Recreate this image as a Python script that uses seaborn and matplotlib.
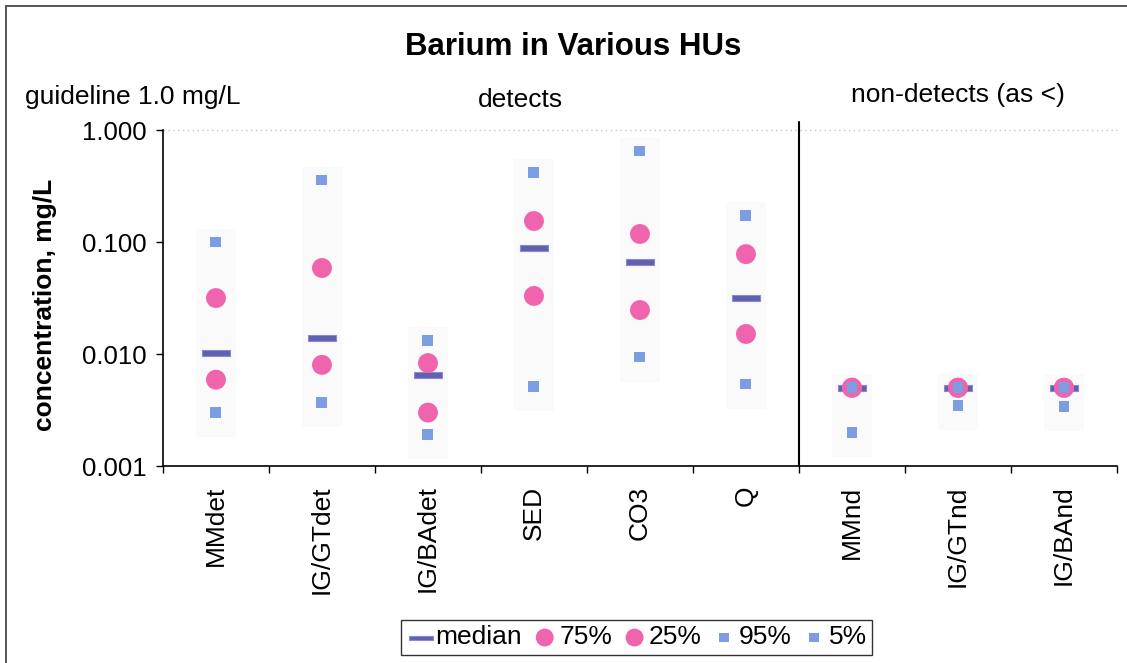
import numpy as np
import pandas as pd
import matplotlib
matplotlib.use("Agg")
import matplotlib.pyplot as plt
from matplotlib.patches import Rectangle
from matplotlib.path import Path
import seaborn as sns

# Hydrogeologic units (detects, then non-detects reported as "<")
units = ["MMdet", "IG/GTdet", "IG/BAdet", "SED", "CO3", "Q", "MMnd", "IG/GTnd", "IG/BAnd"]
n_detect_units = 6

# Barium concentration statistics, mg/L
median = [0.0102, 0.0139, 0.0065, 0.088, 0.066, 0.0316, 0.005, 0.005, 0.005]
p75 = [0.0316, 0.0586, 0.0083, 0.154, 0.118, 0.078, 0.005, 0.005, 0.005]
p25 = [0.0059, 0.0080, 0.0030, 0.033, 0.0247, 0.0151, 0.005, 0.005, 0.005]
p95 = [0.100, 0.358, 0.0133, 0.42, 0.65, 0.174, 0.005, 0.005, 0.005]
p5 = [0.0030, 0.0037, 0.0019, 0.0051, 0.0094, 0.0054, 0.0020, 0.0035, 0.0034]

guideline = 1.0
yticks = [0.001, 0.01, 0.1, 1.0]

stats = {"median": median, "75%": p75, "25%": p25, "95%": p95, "5%": p5}

rows = []
for name, vals in stats.items():
    for i, (u, v) in enumerate(zip(units, vals)):
        rows.append({"unit": u, "pos": i, "stat": name, "value": v})
df = pd.DataFrame(rows)

sns.set_theme(style="ticks")
plt.rcParams["font.family"] = ["Liberation Sans", "DejaVu Sans"]
plt.rcParams["text.color"] = "black"
plt.rcParams["axes.labelcolor"] = "black"
plt.rcParams["xtick.color"] = "black"
plt.rcParams["ytick.color"] = "black"

fig = plt.figure(figsize=(11.27, 6.63), dpi=100)
ax = fig.add_axes([0.1446, 0.2971, 0.8465, 0.5068])

pink = "#f063ad"
blue = "#7d9de3"
dash_col = "#6060b0"

# median marker: a flat horizontal bar
bar_path = Path([(-1, -0.2), (1, -0.2), (1, 0.2), (-1, 0.2), (-1, -0.2)],
                [Path.MOVETO, Path.LINETO, Path.LINETO, Path.LINETO, Path.CLOSEPOLY])

styles = {
    "median": dict(marker=bar_path, s=380, color=dash_col, edgecolor="#8a8ad0", linewidth=0.8),
    "75%": dict(marker="o", s=205, color=pink, edgecolor="none"),
    "25%": dict(marker="o", s=205, color=pink, edgecolor="none"),
    "95%": dict(marker="s", s=62, color=blue, edgecolor="none"),
    "5%": dict(marker="s", s=62, color=blue, edgecolor="none"),
}

# very faint range bands behind each unit
lo = np.array(p5) * 10 ** (-0.22)
hi = np.array(p95) * 10 ** (0.12)
ax.bar(np.arange(len(units)), hi - lo, bottom=lo, width=0.38,
       color="#fafafb", edgecolor="none", zorder=0)

for z, (name, st) in enumerate(styles.items()):
    sns.scatterplot(data=df[df["stat"] == name], x="pos", y="value", ax=ax,
                    label=name, zorder=3 + z, **st)

ax.set_yscale("log")
ax.set_ylim(0.001, 1.0)
ax.set_xlim(-0.5, len(units) - 0.5)

# guideline at 1.0 mg/L
ax.axhline(guideline, color="#c4c4c4", lw=1.0, ls=(0, (1, 2.5)), zorder=1, clip_on=False)

# divider between detects and non-detects
ax.plot([n_detect_units - 0.5, n_detect_units - 0.5], [0.001, 1.18], color="black",
        lw=1.5, clip_on=False, zorder=2)

ax.set_yticks(yticks)
ax.set_yticklabels([f"{v:.3f}" for v in yticks])
ax.yaxis.set_minor_locator(matplotlib.ticker.NullLocator())
ax.tick_params(axis="y", which="major", length=5, width=1.0, direction="out",
               pad=7, labelsize=18.5, colors="black")

ax.set_xticks(np.arange(len(units)))
ax.set_xticklabels(units, rotation=90, va="top", ha="center")
ax.set_xticks(np.arange(len(units) + 1) - 0.5, minor=True)
ax.tick_params(axis="x", which="major", length=0, pad=14, labelsize=19, labelcolor="black")
ax.tick_params(axis="x", which="minor", length=5, width=1.0, direction="out", color="black")

for side in ["top", "right"]:
    ax.spines[side].set_visible(False)
for side in ["left", "bottom"]:
    ax.spines[side].set_color("black")
    ax.spines[side].set_linewidth(1.2)

ax.set_xlabel("")
ax.set_ylabel("")
ax.grid(False)

fig.text(0.04, 0.54, "concentration, mg/L", rotation=90, fontsize=19,
         fontweight="bold", ha="center", va="center", color="black")
fig.text(0.5085, 0.929, "Barium in Various HUs", fontsize=22.5, fontweight="bold",
         ha="center", va="center", color="black")
fig.text(0.022, 0.853, "guideline 1.0 mg/L", fontsize=19, ha="left", va="center", color="black")
fig.text(0.4615, 0.849, "detects", fontsize=19, ha="center", va="center", color="black")
fig.text(0.85, 0.856, "non-detects (as <)", fontsize=19, ha="center", va="center", color="black")

leg = ax.legend(loc="center", bbox_to_anchor=(0.565, 0.0385), bbox_transform=fig.transFigure,
                ncol=5, frameon=True, fancybox=False, fontsize=19, handletextpad=0.0,
                columnspacing=0.3, borderpad=0.2, handlelength=1.1, markerscale=0.9)
leg.get_frame().set_edgecolor("black")
leg.get_frame().set_linewidth(1.0)
for t in leg.get_texts():
    t.set_color("black")

# outer frame of the chart area
fig.patches.append(Rectangle((0.0055, -0.05), 1.2, 1.041, transform=fig.transFigure,
                             fill=False, edgecolor="#555555", lw=1.4, figure=fig))

fig.savefig("out.png", dpi=100, facecolor="white")
